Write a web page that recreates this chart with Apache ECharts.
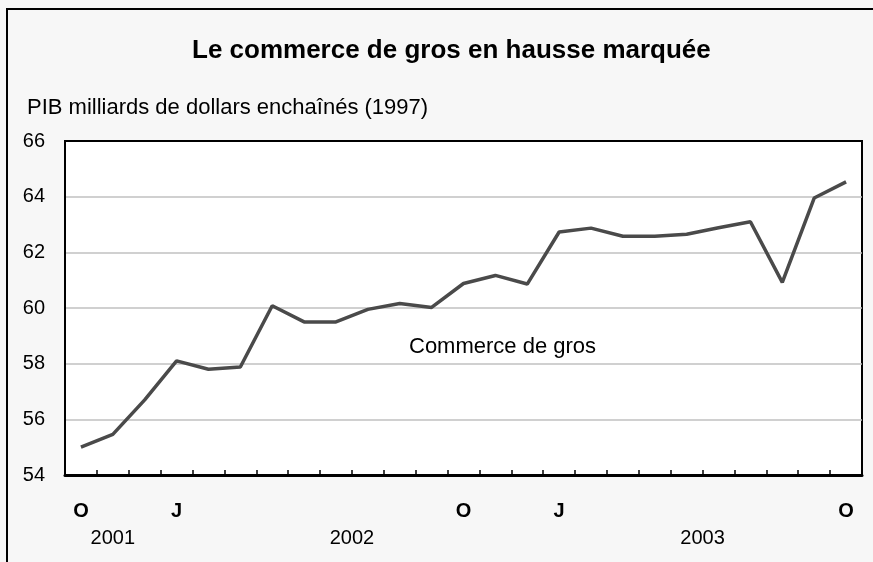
<!DOCTYPE html>
<html>
<head>
<meta charset="utf-8">
<script src="https://cdn.jsdelivr.net/npm/echarts@6/dist/echarts.min.js"></script>
<style>
html,body{margin:0;padding:0;background:#f7f7f7;}
#c{width:873px;height:562px;}
</style>
</head>
<body>
<div id="c"></div>
<script>
// Data
const months = ['oct','nov','déc','janv','févr','mars','avr','mai','juin','juil','août','sept',
                'oct','nov','déc','janv','févr','mars','avr','mai','juin','juil','août','sept','oct'];
const years  = [2001,2001,2001,2002,2002,2002,2002,2002,2002,2002,2002,2002,
                2002,2002,2002,2003,2003,2003,2003,2003,2003,2003,2003,2003,2003];
const values = [55.0, 55.46, 56.7, 58.1, 57.8, 57.88, 60.08, 59.5, 59.5, 59.95, 60.16, 60.02,
                60.88, 61.17, 60.86, 62.73, 62.87, 62.58, 62.58, 62.65, 62.88, 63.1, 60.92, 63.95, 64.53];
const monthTickLabels = {'oct':'O','janv':'J'};
const yTicks = [54,56,58,60,62,64,66];
const titleText = 'Le commerce de gros en hausse marquée';
const unitText = 'PIB milliards de dollars enchaînés (1997)';
const seriesName = 'Commerce de gros';

// year label positions = centre of each year's index range
const yearCentres = {};
[...new Set(years)].forEach(y => {
  const idx = years.map((v,i)=>v===y?i:-1).filter(i=>i>=0);
  yearCentres[((idx[0]+idx[idx.length-1])/2).toFixed(2)] = String(y);
});

const FONT = 'Liberation Sans, Arial, sans-serif';
const chart = echarts.init(document.getElementById('c'));
chart.setOption({
  backgroundColor: '#f7f7f7',
  animation: false,
  title: [
    {text: titleText, left: 187, top: 33,
     textStyle:{fontFamily:FONT, fontSize:26, fontWeight:'bold', color:'#000'}},
    {text: unitText, left: 22, top: 92,
     textStyle:{fontFamily:FONT, fontSize:22, fontWeight:'normal', color:'#000'}}
  ],
  grid: {left:65, right:11, top:141, bottom:87, show:true, backgroundColor:'#fff',
         borderColor:'#000', borderWidth:2},
  xAxis: [
    {type:'category', data: months, boundaryGap:true, position:'bottom',
     axisLine:{show:true, onZero:false, lineStyle:{color:'#000', width:3}},
     axisTick:{show:true, inside:true, length:5, interval:0, lineStyle:{color:'#000', width:1.5}},
     axisLabel:{interval:0, margin:26, fontFamily:FONT, fontSize:20, fontWeight:'bold', color:'#000',
       formatter:(v)=> monthTickLabels[v] || ''},
     splitLine:{show:false}},
    {type:'value', min:-0.5, max:24.5, interval:0.5, position:'bottom', gridIndex:0,
     axisLine:{show:false, onZero:false}, axisTick:{show:false}, splitLine:{show:false},
     axisLabel:{margin:53, fontFamily:FONT, fontSize:20, color:'#000',
       showMinLabel:true, showMaxLabel:true,
       formatter:(v)=> yearCentres[v.toFixed(2)] || ''}}
  ],
  yAxis: {type:'value', min:yTicks[0], max:yTicks[yTicks.length-1], interval:2,
    axisLine:{show:true, onZero:false, lineStyle:{color:'#000', width:2}},
    axisTick:{show:false},
    axisLabel:{margin:20, fontFamily:FONT, fontSize:20, color:'#000'},
    splitLine:{show:true, showMaxLine:false, showMinLine:false, lineStyle:{color:'#c0c0c0', width:1.5}}},
  series: [{
    name: seriesName, type:'line', data: values, xAxisIndex:0,
    symbol:'none', lineStyle:{color:'#4a4a4a', width:3.5}
  }],
  graphic: [
    {type:'text', left:409, top:336, style:{text: seriesName, font:'22px ' + FONT, fill:'#000'}},
    {type:'polyline', shape:{points:[[7,562],[7,9],[873,9]]}, style:{stroke:'#000', lineWidth:2, fill:null}}
  ]
});
</script>
</body>
</html>
